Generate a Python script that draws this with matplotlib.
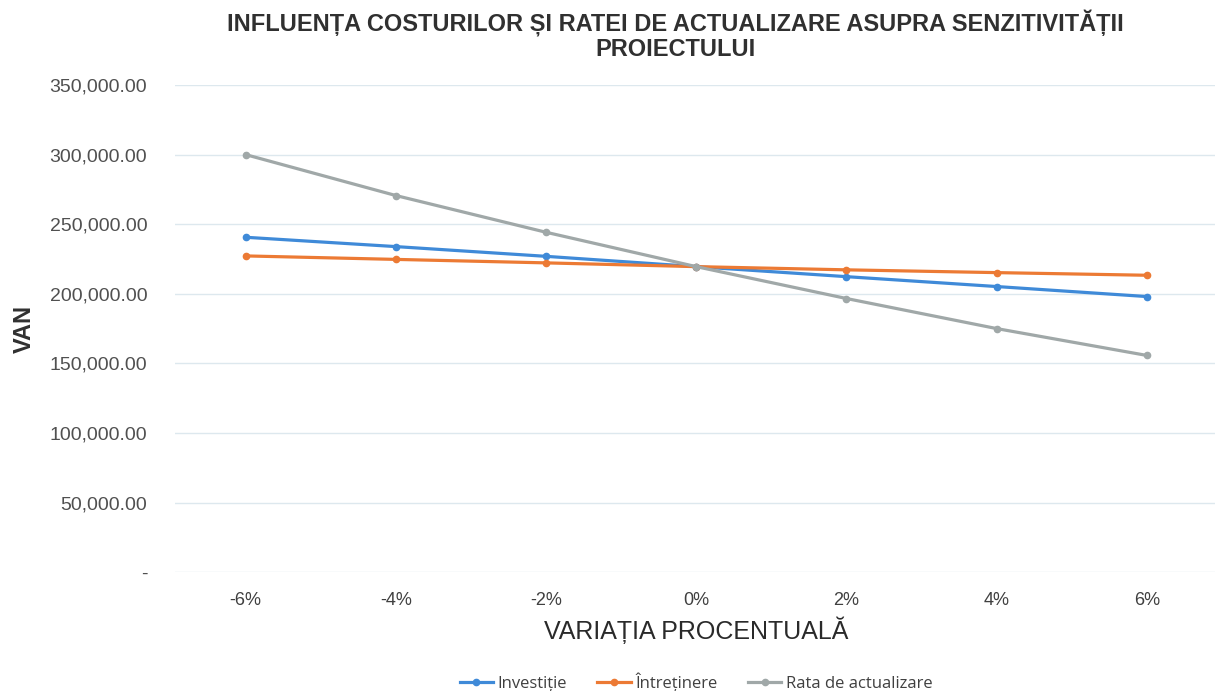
#!/usr/bin/env python3
import matplotlib
matplotlib.use("Agg")
import matplotlib.pyplot as plt
from matplotlib.ticker import FuncFormatter, MultipleLocator

# === Data ===
categories = ["-6%", "-4%", "-2%", "0%", "2%", "4%", "6%"]
investitie = [240600, 233900, 226900, 219500, 212300, 205200, 198000]
intretinere = [227200, 224700, 222200, 219500, 217200, 215200, 213300]
rata_actualizare = [300000, 270600, 244200, 219500, 196600, 175000, 155700]

series = [
    ("Investiție", investitie, "#3f8ad8"),
    ("Întreținere", intretinere, "#ec7a34"),
    ("Rata de actualizare", rata_actualizare, "#a0a8a8"),
]

fig = plt.figure(figsize=(12.15, 6.91), dpi=100)
ax = fig.add_axes([0.144, 0.172, 0.858, 0.705])

x = list(range(len(categories)))
for label, vals, color in series:
    ax.plot(x, vals, color=color, linewidth=2.3, marker="o", markersize=4.5,
            label=label, zorder=3)

ax.set_xlim(-0.47, len(categories) - 0.53)
ax.set_ylim(0, 350000)
ax.yaxis.set_major_locator(MultipleLocator(50000))
ax.yaxis.set_major_formatter(FuncFormatter(lambda v, p: "-" if v == 0 else f"{v:,.2f}"))
ax.set_xticks(x)
ax.set_xticklabels(categories, fontfamily="Liberation Sans", fontsize=13, color="#404040")
for t in ax.get_yticklabels():
    t.set_fontfamily("Liberation Sans")
    t.set_fontsize(14)
    t.set_color("#505050")

ax.grid(axis="y", color="#dde8ee", linewidth=1)
ax.set_axisbelow(True)
for s in ax.spines.values():
    s.set_visible(False)
ax.tick_params(length=0, pad=14)
ax.tick_params(axis="y", pad=20)

ax.set_xlabel("VARIAȚIA PROCENTUALĂ", fontfamily="Liberation Sans", fontsize=18,
              fontweight="medium", color="#2a2a2a", labelpad=6)
ax.set_ylabel("VAN", fontfamily="Liberation Sans", fontsize=17, fontweight="bold",
              color="#303030", labelpad=10)

fig.text(0.556, 0.985,
         "INFLUENȚA COSTURILOR ȘI RATEI DE ACTUALIZARE ASUPRA SENZITIVITĂȚII\nPROIECTULUI",
         ha="center", va="top", fontfamily="Liberation Sans", fontsize=17,
         fontweight="bold", color="#303030", linespacing=1.05)

leg = ax.legend(loc="upper center", bbox_to_anchor=(0.5, -0.175), ncol=3,
                frameon=False, handlelength=2.0, columnspacing=1.8,
                handletextpad=0.3, prop={"family": "Open Sans", "size": 12})
for t in leg.get_texts():
    t.set_color("#404040")

fig.savefig("out.png", dpi=100)
